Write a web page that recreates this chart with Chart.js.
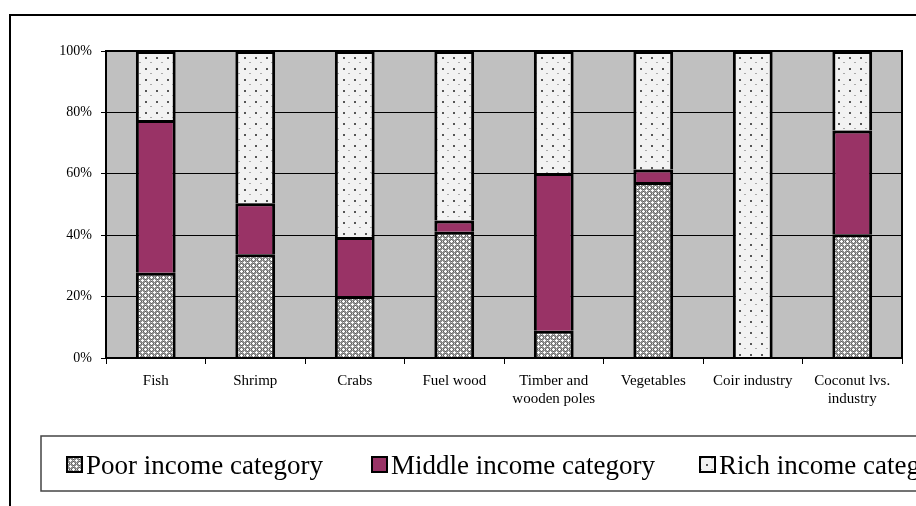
<!DOCTYPE html>
<html>
<head>
<meta charset="utf-8">
<script src="https://cdn.jsdelivr.net/npm/chart.js@4/dist/chart.umd.min.js"></script>
<style>
  html, body { margin: 0; padding: 0; background: #fff; }
  #wrap { width: 916px; height: 506px; }
</style>
</head>
<body>
<div id="wrap"><canvas id="c" width="916" height="506"></canvas></div>
<script>
// ---- data ----
const categories = ['Fish', 'Shrimp', 'Crabs', 'Fuel wood', ['Timber and', 'wooden poles'], 'Vegetables', 'Coir industry', ['Coconut lvs.', 'industry']];
const seriesNames = ['Poor income category', 'Middle income category', 'Rich income category'];
const poorValues   = [27.8, 33.8, 20.2, 41.1,  8.9, 57.3,   0, 40.3];
const middleValues = [49.7, 16.6, 19.2,  3.7, 51.4,  4.1,   0, 33.8];
const richValues   = [22.5, 49.6, 60.6, 55.2, 39.7, 38.6, 100, 25.9];
const yTickValues  = [0, 20, 40, 60, 80, 100];

// ---- patterns ----
function makeTile(w, h, draw) {
  const c = document.createElement('canvas');
  c.width = w; c.height = h;
  const g = c.getContext('2d');
  draw(g);
  return c;
}
const ctx0 = document.getElementById('c').getContext('2d');
const poorTile = makeTile(6, 6, g => {
  g.fillStyle = '#8c8c8c'; g.fillRect(0, 0, 6, 6);
  g.fillStyle = '#ffffff';
  [[1,0],[0,1],[1,1],[2,1],[1,2],[4,3],[3,4],[4,4],[5,4],[4,5]].forEach(p => g.fillRect(p[0], p[1], 1, 1));
  g.fillStyle = '#d8d8d8';
  [[4,1],[1,4]].forEach(p => g.fillRect(p[0], p[1], 1, 1));
  g.fillStyle = '#5a5a5a';
  [[3,1],[5,1],[1,3],[1,5]].forEach(p => g.fillRect(p[0], p[1], 1, 1));
});
const richTile = makeTile(11, 11, g => {
  g.fillStyle = '#f2f2f2'; g.fillRect(0, 0, 11, 11);
  g.fillStyle = '#555555'; g.fillRect(2, 2, 2, 2);
  g.fillStyle = '#aaaaaa'; g.fillRect(7, 7, 2, 1);
});
const poorPattern = ctx0.createPattern(poorTile, 'repeat');
const richPattern = ctx0.createPattern(richTile, 'repeat');
const middleColor = '#993366';

const FONT = '"Liberation Serif", "Times New Roman", serif';

const framePlugin = {
  id: 'frame',
  beforeDraw(chart) {
    const { ctx, chartArea: a } = chart;
    ctx.save();
    ctx.fillStyle = '#ffffff';
    ctx.fillRect(0, 0, chart.width, chart.height);
    ctx.fillStyle = '#c0c0c0';
    ctx.fillRect(a.left, a.top, a.right - a.left, a.bottom - a.top);
    ctx.restore();
  },
  afterDraw(chart) {
    const { ctx, chartArea: a } = chart;
    ctx.save();
    // plot frame
    ctx.strokeStyle = '#000';
    ctx.lineWidth = 2;
    ctx.strokeRect(a.left, a.top, a.right - a.left, a.bottom - a.top);
    // outer chart border
    ctx.beginPath();
    ctx.moveTo(10, 520);
    ctx.lineTo(10, 15);
    ctx.lineTo(930, 15);
    ctx.stroke();
    // legend box
    ctx.lineWidth = 1.5;
    ctx.strokeStyle = '#444';
    ctx.strokeRect(41, 436, 920, 55);
    // legend items
    const fills = [poorPattern, middleColor, richPattern];
    const markerX = [67, 372, 700];
    const textX = [86, 391, 719];
    ctx.font = '27px ' + FONT;
    ctx.textBaseline = 'alphabetic';
    for (let i = 0; i < 3; i++) {
      ctx.fillStyle = fills[i];
      ctx.fillRect(markerX[i], 457, 15, 15);
      ctx.lineWidth = 2;
      ctx.strokeStyle = '#000';
      ctx.strokeRect(markerX[i], 457, 15, 15);
      ctx.fillStyle = '#000';
      ctx.fillText(chart.data.datasets[i].label, textX[i], 474);
    }
    ctx.restore();
  }
};

const common = { borderColor: '#000', borderWidth: 3, borderSkipped: 'start', barPercentage: 0.4, categoryPercentage: 1.0 };

new Chart(document.getElementById('c'), {
  type: 'bar',
  data: {
    labels: categories,
    datasets: [
      Object.assign({ label: seriesNames[0], data: poorValues, backgroundColor: poorPattern }, common),
      Object.assign({ label: seriesNames[1], data: middleValues, backgroundColor: middleColor }, common),
      Object.assign({ label: seriesNames[2], data: richValues, backgroundColor: richPattern }, common)
    ]
  },
  options: {
    responsive: false,
    animation: false,
    devicePixelRatio: 1,
    layout: { padding: { top: 51, right: 14, left: 0, bottom: 0 } },
    plugins: { legend: { display: false }, tooltip: { enabled: false } },
    scales: {
      x: {
        stacked: true,
        afterFit(s) { s.height = 148; },
        border: { display: false },
        grid: { offset: true, drawOnChartArea: false, drawTicks: true, tickLength: 6, color: '#000', lineWidth: 1 },
        ticks: { color: '#000', font: { family: FONT, size: 15, lineHeight: 1.2 }, padding: 8, maxRotation: 0, autoSkip: false }
      },
      y: {
        stacked: true,
        min: 0, max: 100,
        afterFit(s) { s.width = 106; },
        afterBuildTicks(s) { s.ticks = yTickValues.map(v => ({ value: v })); },
        border: { display: false },
        grid: { color: '#000', lineWidth: 1, drawTicks: true, tickLength: 5 },
        ticks: { color: '#000', font: { family: FONT, size: 14 }, padding: 9, callback: v => v + '%' }
      }
    }
  },
  plugins: [framePlugin]
});
</script>
</body>
</html>
